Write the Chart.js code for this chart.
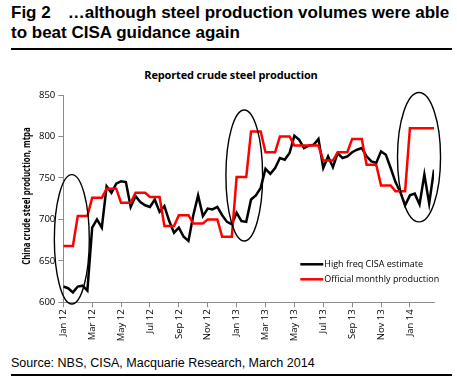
<!DOCTYPE html>
<html>
<head>
<meta charset="utf-8">
<script src="https://cdn.jsdelivr.net/npm/chart.js@4.4.1/dist/chart.umd.min.js"></script>
<style>
  body { margin: 0; width: 457px; height: 382px; background: #fff; position: relative; overflow: hidden; font-family: "Liberation Sans", Arial, sans-serif; }
  #head { position: absolute; left: 11px; top: 3px; font-weight: bold; font-size: 17px; line-height: 20px; color: #000; }
  #head .fig { margin-right: 17px; }
  .rule { position: absolute; left: 11px; width: 441px; height: 2px; background: #000; }
  #box { position: absolute; left: 0; top: 55px; width: 457px; height: 290px; }
  #ctitle { position: absolute; left: 0; width: 462px; top: 67px; text-align: center; font: bold 11px "Open Sans", sans-serif; letter-spacing: -0.15px; }
  #ytitle { position: absolute; left: -74.5px; top: 189px; width: 200px; line-height: 12px; text-align: center;
            font: bold 10px "Open Sans", sans-serif; white-space: nowrap; transform: rotate(-90deg) scaleX(0.78); }
  #source { position: absolute; left: 11px; top: 356px; font-size: 12.5px; color: #000; }
</style>
</head>
<body>
<div id="head"><span class="fig">Fig 2</span>…although steel production volumes were able<br>to beat CISA guidance again</div>
<div class="rule" style="top:48px"></div>
<div id="ctitle">Reported crude steel production</div>
<div id="box"><canvas id="chart" width="457" height="290"></canvas></div>
<div id="ytitle">China crude steel production, mtpa</div>
<div id="source">Source: NBS, CISA, Macquarie Research, March 2014</div>
<div class="rule" style="top:374px"></div>
<script>
const context = document.getElementById("chart").getContext("2d");

// tick labels, one every two months starting Jan 12
const monthLabels = ["Jan 12", "Mar 12", "May 12", "Jul 12", "Sep 12", "Nov 12",
    "Jan 13", "Mar 13", "May 13", "Jul 13", "Sep 13", "Nov 13", "Jan 14"];

// Official monthly production, Jan 12 .. Feb 14 (mtpa)
const officialMonthly = [668, 704, 726, 737, 720, 732, 727, 692, 705, 695, 700, 679,
    751, 806, 781, 800, 789, 789, 771, 781, 797, 766, 741, 734,
    810, 810];

// High freq CISA estimate, three ten-day readings per month, Jan 12 .. Feb 14
const highFreq = [
    619, 617, 612,  619, 620, 614,  690, 700, 690,  740, 732, 743,
    746, 745, 715,  728, 721, 717,  715, 724, 709,  716, 698, 684,
    690, 679, 674,  705, 729, 704,  713, 712, 715,  705, 697, 694,
    708, 698, 697,  724, 729, 738,  761, 755, 762,  774, 772, 780,
    801, 796, 786,  789, 790, 797,  762, 776, 763,  780, 774, 776,
    781, 784, 786,  776, 770, 768,  782, 778, 762,  745, 733, 717,
    729, 731, 718,  754, 719, 760
];

// circled periods (centre month, centre mtpa, radius in months, radius in mtpa)
const circleMonth = [0.59, 12.53, 24.63];
const circleValue = [676, 753, 775];
const circleRadiusMonth = [1.21, 1.27, 1.49];
const circleRadiusValue = [78, 79, 78];

const legendLabels = ["High freq CISA estimate", "Official monthly production"];
const legendColors = ["#000000", "#ff0000"];

// every month value is repeated on its three ten-day slots
const officialPoints = [];
officialMonthly.forEach((v, m) => {
    for (let k = 0; k < 3; k++) officialPoints.push({ x: m + k / 3, y: v });
});
const highFreqPoints = highFreq.map((v, i) => ({ x: i / 3, y: v }));

const extras = {
    id: "extras",
    afterDatasetsDraw(chart) {
        const ctx = chart.ctx;
        const xs = chart.scales.x, ys = chart.scales.y;
        ctx.save();
        ctx.strokeStyle = "#000";
        ctx.lineWidth = 1.4;
        for (let i = 0; i < circleMonth.length; i++) {
            const cx = xs.getPixelForValue(circleMonth[i]);
            const cy = ys.getPixelForValue(circleValue[i]);
            const rx = Math.abs(xs.getPixelForValue(circleMonth[i] + circleRadiusMonth[i]) - cx);
            const ry = Math.abs(ys.getPixelForValue(circleValue[i] + circleRadiusValue[i]) - cy);
            ctx.beginPath();
            ctx.ellipse(cx, cy, rx, ry, 0, 0, Math.PI * 2);
            ctx.stroke();
        }
        // legend
        const area = chart.chartArea;
        const lx = area.left + 237;
        ctx.font = "9px 'Open Sans'";
        ctx.textBaseline = "middle";
        ctx.fillStyle = "#000";
        legendLabels.forEach((t, i) => {
            const ly = area.bottom - 38 + i * 15;
            ctx.strokeStyle = legendColors[i];
            ctx.lineWidth = 2.5;
            ctx.beginPath();
            ctx.moveTo(lx, ly);
            ctx.lineTo(lx + 23, ly);
            ctx.stroke();
            ctx.fillText(t, lx + 24, ly);
        });
        ctx.restore();
    }
};

new Chart(context, {
    type: "line",
    data: {
        datasets: [
            {
                label: legendLabels[1],
                data: officialPoints,
                borderColor: "#ff0000",
                borderWidth: 2.5,
                pointRadius: 0,
                fill: false
            },
            {
                label: legendLabels[0],
                data: highFreqPoints,
                borderColor: "#000000",
                borderWidth: 2.5,
                pointRadius: 0,
                fill: false
            }
        ]
    },
    options: {
        responsive: false,
        animation: false,
        events: [],
        layout: { padding: { top: 40, right: 23, left: 0, bottom: 0 } },
        plugins: {
            legend: { display: false },
            tooltip: { enabled: false }
        },
        scales: {
            x: {
                type: "linear",
                min: 0,
                max: 25.667,
                afterFit(scale) { scale.height = 42.7; },
                border: { color: "#8c8c8c", width: 1 },
                grid: { drawOnChartArea: false, drawTicks: true, tickLength: 5, color: "#8c8c8c" },
                ticks: {
                    stepSize: 2,
                    includeBounds: false,
                    autoSkip: false,
                    maxRotation: 90,
                    minRotation: 90,
                    padding: 2,
                    color: "#000",
                    font: { family: "'Open Sans'", size: 9.5 },
                    callback: (v) => monthLabels[v / 2]
                }
            },
            y: {
                min: 600,
                max: 850,
                afterFit(scale) { scale.width = 63.3; },
                border: { color: "#8c8c8c", width: 1 },
                grid: { drawOnChartArea: false, drawTicks: true, tickLength: 5, color: "#8c8c8c" },
                ticks: {
                    stepSize: 50,
                    padding: 3,
                    color: "#000",
                    font: { family: "'Open Sans'", size: 9.5 }
                }
            }
        }
    },
    plugins: [extras]
});
</script>
</body>
</html>
